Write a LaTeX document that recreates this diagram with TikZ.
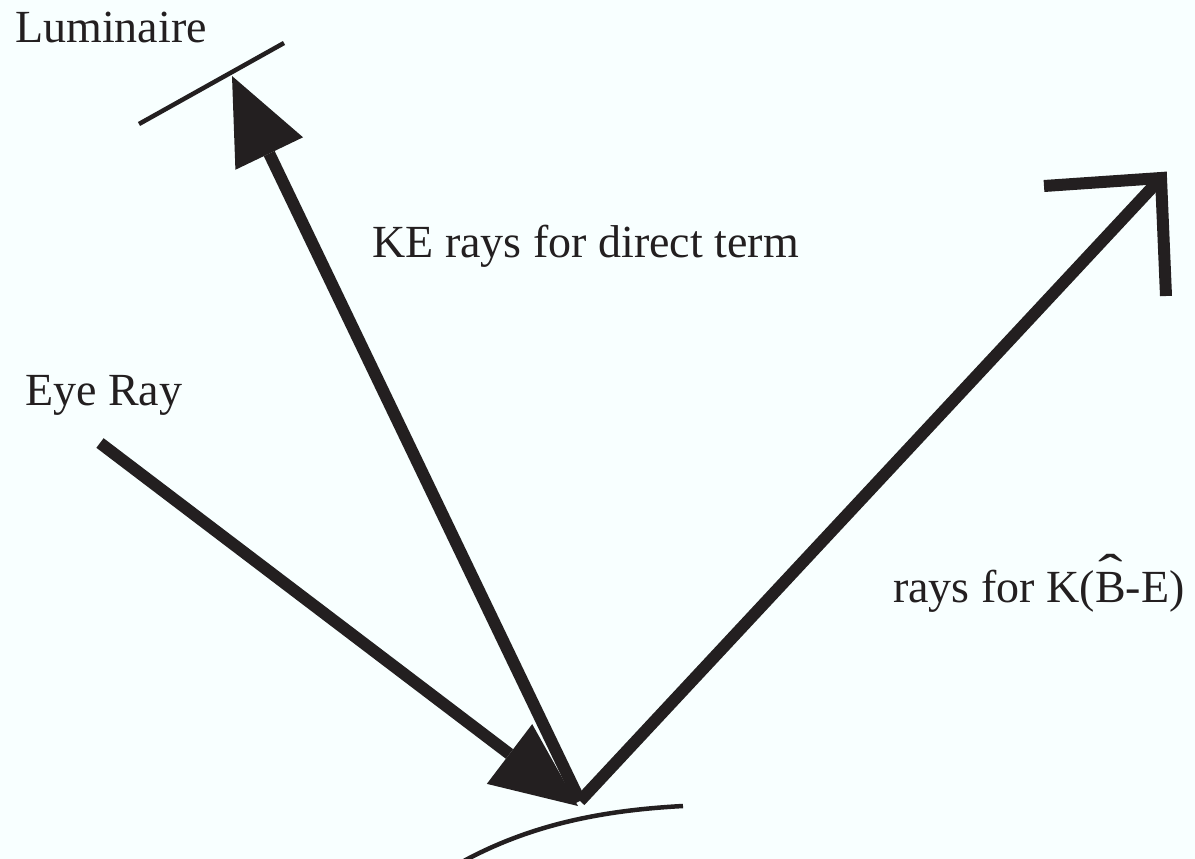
\documentclass[tikz,border=0pt]{standalone}
\usepackage{fontspec}
\setmainfont{Liberation Serif}
\usetikzlibrary{arrows.meta}
\definecolor{ink}{HTML}{231F20}
\definecolor{bgc}{HTML}{F8FFFF}
\newcommand\hatB{\ooalign{B\cr\hidewidth\raisebox{0.28em}{\scalebox{1.6}[1.1]{\char"02C6}}\hidewidth\cr}}
\begin{document}
\begin{tikzpicture}[x=1pt,y=-1pt,
  ray/.style={draw=ink,line width=12pt},
  thinline/.style={draw=ink,line width=4.5pt},
  lbl/.style={anchor=base west,inner sep=0pt,text=ink,font=\fontsize{46}{50}\selectfont},
  bigtip/.style={-{Triangle[length=86pt,width=75pt,line width=0pt]}},
  openhead/.style={draw=ink,line width=12pt,line join=miter,miter limit=10}]
\fill[bgc] (0,0) rectangle (1195,859);
\useasboundingbox (0,0) rectangle (1195,859);
% points
\coordinate (P) at (580,801);
\coordinate (L) at (232,76);
\coordinate (E0) at (100,443);
\coordinate (Et) at (578,806);
\coordinate (C) at (1161,178);
\coordinate (A1) at (1044,186);
\coordinate (A2) at (1166,296);
\coordinate (LumA) at (139,124);
\coordinate (LumB) at (284,43);
\coordinate (S0) at (462,862);
\coordinate (S1) at (683,806);
% labels
\node[lbl] (lum) at (15,43) {Luminaire};
\node[lbl] (ke) at (372,257) {KE rays for direct term};
\node[lbl] (eye) at (25,405) {Eye Ray};
\node[lbl] (kb) at (893,602) {rays for K(\hatB-E)};
% luminaire and surface
\draw[thinline] (LumA) -- (LumB);
\draw[thinline] (S0) .. controls (535,822) and (610,810) .. (S1);
% rays
\draw[ray,bigtip] (P) -- (L);
\draw[ray,bigtip] (E0) -- (Et);
\draw[ray] (P) -- (C);
\draw[openhead] (A1) -- (C) -- (A2);
\end{tikzpicture}
\end{document}
